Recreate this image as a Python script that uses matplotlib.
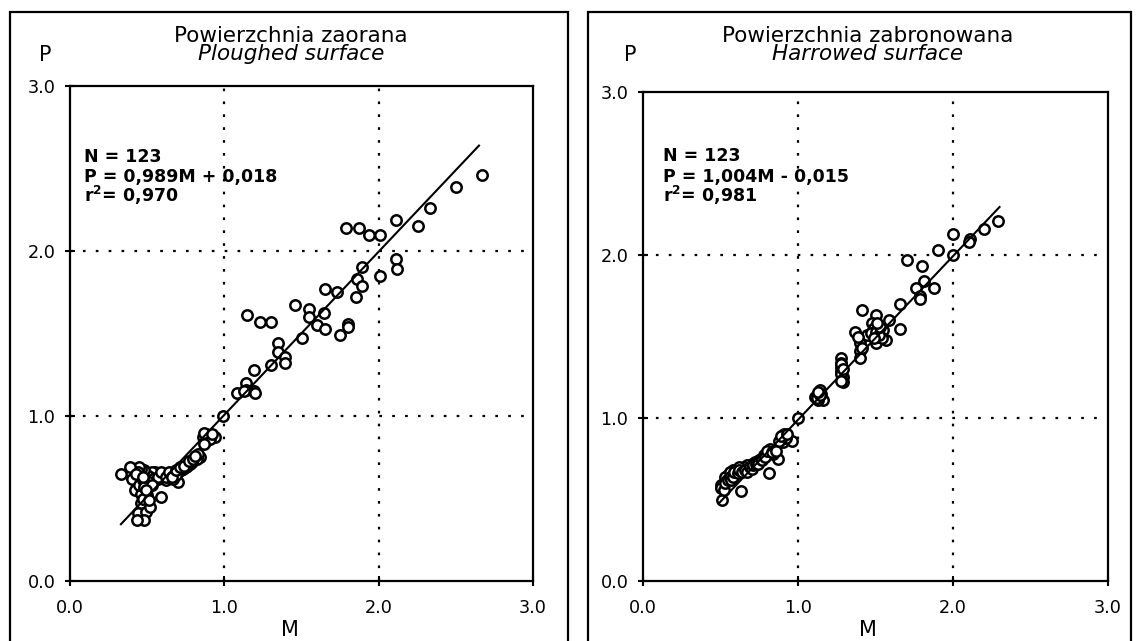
import matplotlib
matplotlib.use("Agg")
import matplotlib.pyplot as plt
from matplotlib.patches import Rectangle
import numpy as np

plt.rcParams['font.family'] = ['DejaVu Sans']
plt.rcParams['mathtext.fontset'] = 'dejavusans'

# ---------------- data ----------------
ticks = [0.0, 1.0, 2.0, 3.0]
tick_labels = ["0.0", "1.0", "2.0", "3.0"]

titles_pl = ["Powierzchnia zaorana", "Powierzchnia zabronowana"]
titles_en = ["Ploughed surface", "Harrowed surface"]
stats_n = ["N = 123", "N = 123"]
stats_eq = ["P = 0,989M + 0,018", "P = 1,004M - 0,015"]
stats_r2 = ["0,970", "0,981"]
slopes = [0.989, 1.004]
intercepts = [0.018, -0.015]
line_ranges = [(0.33, 2.65), (0.49, 2.30)]

plough_M = [2.67, 2.50, 2.33, 2.255, 2.11, 1.79, 1.87, 1.94, 2.01, 2.11, 2.12, 2.01,
            1.89, 1.86, 1.89, 1.85, 1.65, 1.73, 1.455, 1.55, 1.55, 1.645, 1.15, 1.23,
            1.30, 1.60, 1.65, 1.80, 1.80, 1.75, 1.50, 1.35, 1.35, 1.39, 1.39, 1.30,
            1.19, 1.14, 1.19, 1.08, 1.14, 1.20, 0.99,
            0.88, 0.86, 0.94, 0.88, 0.90, 0.91, 0.87,
            0.84, 0.82, 0.79, 0.78, 0.76, 0.75, 0.73, 0.72, 0.70, 0.68, 0.66, 0.65,
            0.63, 0.61, 0.60, 0.58, 0.56, 0.55, 0.53, 0.52, 0.50, 0.48, 0.46, 0.45,
            0.44, 0.40, 0.39, 0.33, 0.70, 0.67, 0.62, 0.54, 0.51, 0.57, 0.64, 0.69,
            0.42, 0.46, 0.45, 0.47, 0.49, 0.46, 0.44, 0.49, 0.48, 0.435, 0.48, 0.59,
            0.50, 0.47, 0.52,
            0.57, 0.59, 0.62, 0.64, 0.66, 0.69, 0.71, 0.74, 0.77, 0.80, 0.83, 0.81,
            0.87, 0.92, 0.51, 0.53, 0.49, 0.43, 0.47, 1.13]
plough_P = [2.46, 2.39, 2.26, 2.15, 2.19, 2.14, 2.14, 2.10, 2.10, 1.95, 1.89, 1.85,
            1.905, 1.83, 1.79, 1.72, 1.77, 1.75, 1.675, 1.65, 1.60, 1.625, 1.61, 1.57,
            1.57, 1.55, 1.53, 1.56, 1.54, 1.49, 1.47, 1.44, 1.39, 1.36, 1.32, 1.31,
            1.28, 1.20, 1.15, 1.14, 1.16, 1.14, 1.00,
            0.89, 0.87, 0.87, 0.85, 0.88, 0.86, 0.83,
            0.75, 0.74, 0.72, 0.71, 0.70, 0.69, 0.68, 0.67, 0.66, 0.66, 0.65, 0.64,
            0.64, 0.65, 0.63, 0.65, 0.64, 0.66, 0.66, 0.63, 0.64, 0.67, 0.68, 0.69,
            0.66, 0.62, 0.69, 0.65, 0.60, 0.62, 0.61, 0.62, 0.60, 0.62, 0.63, 0.64,
            0.55, 0.53, 0.58, 0.61, 0.48, 0.47, 0.41, 0.42, 0.37, 0.37, 0.57, 0.51,
            0.52, 0.50, 0.45,
            0.63, 0.66, 0.63, 0.66, 0.63, 0.67, 0.69, 0.70, 0.73, 0.74, 0.77, 0.76,
            0.90, 0.89, 0.49, 0.58, 0.55, 0.65, 0.63, 1.15]

harrow_M = [2.29, 2.20, 2.11, 2.10, 2.00, 2.00, 1.905, 1.70, 1.80, 1.815, 1.875, 1.76,
            1.79, 1.79, 1.66, 1.41, 1.50, 1.59, 1.66, 1.57, 1.50, 1.48, 1.52, 1.53,
            1.51, 1.48, 1.55, 1.49, 1.54, 1.445, 1.37, 1.40, 1.40, 1.40, 1.28, 1.28,
            1.28, 1.28, 1.29, 1.29, 1.28, 1.14, 1.13, 1.16, 1.11, 1.15, 1.13, 1.00,
            0.91, 0.96, 0.90, 0.92, 0.89, 0.87, 0.81, 0.85, 0.80, 0.82, 0.78, 0.84,
            0.72, 0.70, 0.67, 0.68, 0.65, 0.63, 0.60, 0.57, 0.58, 0.55, 0.53, 0.54,
            0.52, 0.51, 0.50, 0.63, 0.51, 0.62, 0.59, 0.56, 0.75, 0.77,
            0.50, 0.52, 0.53, 0.55, 0.56, 0.57, 0.58, 0.59, 0.61, 0.62, 0.64, 0.66,
            0.67, 0.69, 0.70, 0.71, 0.73, 0.74, 0.76, 0.77, 0.79, 0.80, 0.83, 0.86,
            0.88, 0.89, 0.93, 1.12, 1.14, 1.13, 1.28, 1.29, 1.28, 1.47, 1.50, 1.52,
            1.49, 1.53, 1.51, 1.41, 1.39]
harrow_P = [2.21, 2.16, 2.10, 2.08, 2.13, 2.00, 2.03, 1.97, 1.93, 1.84, 1.80, 1.80,
            1.75, 1.73, 1.70, 1.66, 1.63, 1.60, 1.545, 1.48, 1.46, 1.58, 1.56, 1.52,
            1.50, 1.53, 1.54, 1.55, 1.49, 1.51, 1.53, 1.46, 1.41, 1.37, 1.37, 1.34,
            1.31, 1.29, 1.25, 1.22, 1.27, 1.17, 1.13, 1.11, 1.13, 1.15, 1.11, 1.00,
            0.90, 0.86, 0.85, 0.88, 0.87, 0.75, 0.66, 0.80, 0.78, 0.81, 0.77, 0.78,
            0.73, 0.72, 0.71, 0.69, 0.70, 0.68, 0.67, 0.66, 0.68, 0.65, 0.64, 0.62,
            0.60, 0.58, 0.59, 0.55, 0.50, 0.70, 0.65, 0.67, 0.74, 0.75,
            0.57, 0.56, 0.60, 0.62, 0.64, 0.62, 0.64, 0.67, 0.66, 0.68, 0.67, 0.68,
            0.67, 0.70, 0.69, 0.71, 0.72, 0.72, 0.75, 0.74, 0.76, 0.80, 0.79, 0.80,
            0.86, 0.89, 0.90, 1.12, 1.14, 1.16, 1.33, 1.30, 1.23, 1.52, 1.53, 1.51,
            1.49, 1.56, 1.58, 1.43, 1.50]

datasets = [(plough_M, plough_P), (harrow_M, harrow_P)]

# ---------------- figure ----------------
W, H = 1139, 641
fig = plt.figure(figsize=(W / 100, H / 100), dpi=100)
fig.patch.set_facecolor("white")

def fx(px):
    return px / W

def fy(py):
    return 1 - py / H

axes_x = [(70, 533), (643, 1108)]     # pixel extents of plotting areas
axes_y = [(86, 581), (92, 581)]
boxes = [(10, 568), (588, 1131)]
title_cx = [291, 868]
stat_x = [84, 663]
stat_y = [(162, 182, 201), (161, 182, 201)]
plabel_x = [45, 630]
mlabel_x = [290, 868]

for i in range(2):
    x0, x1 = axes_x[i]
    yt, yb = axes_y[i]
    ax = fig.add_axes([fx(x0), fy(yb), fx(x1 - x0), (yb - yt) / H])
    M, P = datasets[i]
    ax.scatter(M, P, s=56, facecolors="white", edgecolors="black",
               linewidths=1.8, zorder=3)
    lx = np.array(line_ranges[i])
    ax.plot(lx, slopes[i] * lx + intercepts[i], color="black", lw=1.5, zorder=4)

    ax.set_xlim(ticks[0], ticks[-1])
    ax.set_ylim(ticks[0], ticks[-1])
    ax.set_xticks(ticks)
    ax.set_yticks(ticks)
    ax.set_xticklabels(tick_labels)
    ax.set_yticklabels(tick_labels)
    ax.tick_params(direction="inout", length=7, width=1.5, labelsize=12.7,
                   colors="black")
    ax.tick_params(axis="x", pad=9.5)
    ax.tick_params(axis="y", pad=7)
    for t in ticks[1:-1]:
        ax.axvline(t, color="black", lw=1.6, linestyle=(0, (1.2, 4.6)), zorder=1)
        ax.axhline(t, color="black", lw=1.6, linestyle=(0, (1.2, 4.6)), zorder=1)
    for sp in ax.spines.values():
        sp.set_linewidth(1.6)

    sy = stat_y[i]
    fig.text(fx(stat_x[i]), fy(sy[0]), stats_n[i], fontsize=12.5,
             fontweight="bold", va="baseline", ha="left")
    fig.text(fx(stat_x[i]), fy(sy[1]), stats_eq[i], fontsize=12.5,
             fontweight="bold", va="baseline", ha="left")
    fig.text(fx(stat_x[i]), fy(sy[2] + 1), r"r$^{\mathbf{2}}$= " + stats_r2[i],
             fontsize=12.5, fontweight="bold", va="baseline", ha="left")

    fig.text(fx(title_cx[i]), fy(42), titles_pl[i], ha="center", va="baseline",
             fontsize=15.5)
    fig.text(fx(title_cx[i]), fy(60), titles_en[i], ha="center", va="baseline",
             fontsize=15.5, style="italic")
    fig.text(fx(plabel_x[i]), fy(61), "P", ha="center", va="baseline", fontsize=15)
    fig.text(fx(mlabel_x[i]), fy(636), "M", ha="center", va="baseline", fontsize=15)

    bx0, bx1 = boxes[i]
    fig.add_artist(Rectangle((fx(bx0), fy(H + 20)), fx(bx1 - bx0), (H + 20 - 12) / H,
                             transform=fig.transFigure, fill=False,
                             edgecolor="black", lw=1.6, clip_on=False))

fig.savefig("out.png", dpi=100, facecolor="white")
